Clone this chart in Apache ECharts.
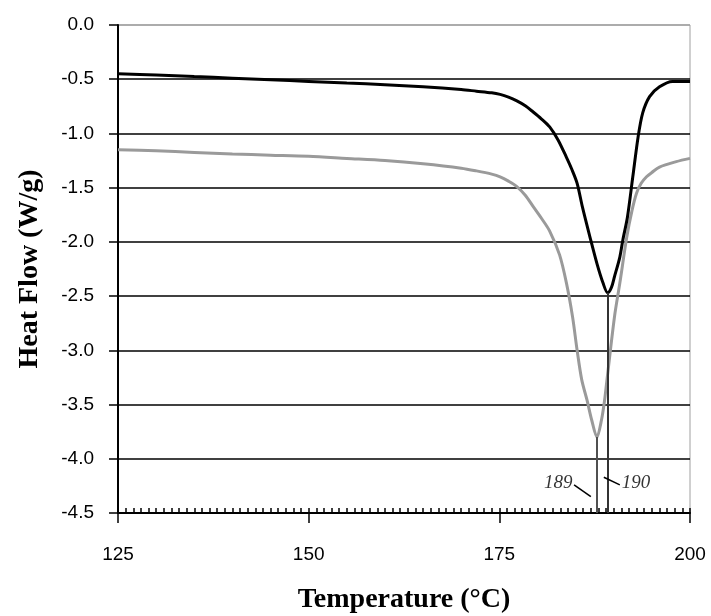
<!DOCTYPE html>
<html>
<head>
<meta charset="utf-8">
<script src="https://cdn.jsdelivr.net/npm/echarts@6/dist/echarts.min.js"></script>
<style>html,body{margin:0;padding:0;background:#fff;}#c{width:711px;height:616px;}</style>
</head>
<body>
<div id="c"></div>
<script>
// Black curve (°C, W/g)
var blackTemp = [125,130,135,140,145,150,155,160,165,170,172,174,175.1,176.2,177.3,178.4,179.4,180.5,181.6,182.7,183.8,184.5,185.2,185.9,186.9,187.8,188.6,189.2,189.7,190.1,190.8,191.2,191.8,192.5,193.2,193.8,194.7,196.0,197.7,200];
var blackFlow = [-0.45,-0.46,-0.475,-0.49,-0.505,-0.52,-0.535,-0.55,-0.57,-0.595,-0.61,-0.625,-0.64,-0.665,-0.70,-0.745,-0.80,-0.865,-0.94,-1.06,-1.22,-1.33,-1.46,-1.68,-1.96,-2.20,-2.38,-2.47,-2.42,-2.32,-2.14,-1.98,-1.77,-1.40,-1.03,-0.81,-0.66,-0.57,-0.52,-0.52];
// Grey curve
var greyTemp = [125,130,135,140,145,150,155,160,165,170,172,174,175.1,176.2,177.3,178.4,179.4,180.5,181.6,182.9,183.8,184.6,185.2,185.8,186.5,187.1,187.8,188.4,188.8,189.1,190.1,190.8,191.7,192.4,193.0,193.6,194.3,195.0,196.0,198.2,200];
var greyFlow = [-1.15,-1.16,-1.175,-1.19,-1.20,-1.21,-1.23,-1.25,-1.28,-1.32,-1.345,-1.375,-1.40,-1.44,-1.49,-1.57,-1.67,-1.78,-1.90,-2.12,-2.38,-2.69,-3.00,-3.27,-3.46,-3.64,-3.80,-3.64,-3.46,-3.28,-2.69,-2.38,-1.96,-1.71,-1.55,-1.46,-1.40,-1.36,-1.31,-1.26,-1.23];
// Axis ticks
var yTicks = [0.0,-0.5,-1.0,-1.5,-2.0,-2.5,-3.0,-3.5,-4.0,-4.5];
var xTicks = [125,150,175,200];
// Peak annotations: label text, label anchor [x,y], leader line [[x1,y1],[x2,y2]]
var peakLabels = ['189','190'];
var labelPos = [[184.6,-4.22],[191.05,-4.22]];
var leaderLines = [[[184.8,-4.24],[187.0,-4.35]],[[188.7,-4.17],[190.8,-4.24]]];

function pairs(xs, ys){ return xs.map(function(x,i){return [x, ys[i]];}); }
function minPoint(xs, ys){ var k=0; for(var i=1;i<ys.length;i++){ if(ys[i]<ys[k]) k=i; } return [xs[k], ys[k]]; }

var yMin = yTicks[yTicks.length-1], yMax = yTicks[0];
var xMin = xTicks[0], xMax = xTicks[xTicks.length-1];
var bMin = minPoint(blackTemp, blackFlow);
var gMin = minPoint(greyTemp, greyFlow);

var chart = echarts.init(document.getElementById('c'));
var axisFont = 'Liberation Sans, Arial, sans-serif';
var serif = 'Liberation Serif, Times New Roman, serif';

var splitColors = yTicks.slice().reverse().map(function(v){ return v===yMax ? '#a0a0a0' : '#000'; });
var gridBox = {left:118, right:21, top:25, bottom:103, containLabel:false, outerBoundsMode:'none'};

var series = [
  {type:'line', xAxisIndex:0, yAxisIndex:0, data: pairs(greyTemp, greyFlow), showSymbol:false, symbol:'none', smooth:0.3,
   lineStyle:{color:'#9a9a9a', width:3}, z:3,
   markLine:{symbol:'none', silent:true, label:{show:false},
     lineStyle:{color:'#505050', width:2, type:'solid'},
     data:[[{coord:[gMin[0], gMin[1]]},{coord:[gMin[0], yMin]}]]}},
  {type:'line', xAxisIndex:0, yAxisIndex:0, data: pairs(blackTemp, blackFlow), showSymbol:false, symbol:'none', smooth:0.3,
   lineStyle:{color:'#000', width:3}, z:4,
   markLine:{symbol:'none', silent:true, label:{show:false},
     lineStyle:{color:'#333', width:2, type:'solid'},
     data:[[{coord:[bMin[0], bMin[1]]},{coord:[bMin[0], yMin]}]]}}
];
leaderLines.forEach(function(l){
  series.push({type:'line', xAxisIndex:0, yAxisIndex:0, data:l, showSymbol:false, symbol:'none', lineStyle:{color:'#000', width:1.5}, z:5, silent:true});
});
series.push({type:'scatter', xAxisIndex:0, yAxisIndex:0, symbolSize:0, silent:true, z:6,
  data: labelPos.map(function(p,i){ return {value:p, label:{show:true, formatter:peakLabels[i], position: i===0?'left':'right', distance:0,
    fontFamily:serif, fontStyle:'italic', fontSize:19, color:'#000'}}; })
});

chart.setOption({
  animation:false,
  backgroundColor:'#fff',
  grid:[
    Object.assign({show:true, borderColor:'#a0a0a0', borderWidth:1, backgroundColor:'transparent'}, gridBox),
    Object.assign({show:false}, gridBox)
  ],
  xAxis:[{
    gridIndex:0, type:'value', min:xMin, max:xMax, interval:25,
    name:'Temperature (°C)', nameLocation:'middle', nameGap:73,
    nameTextStyle:{fontFamily:serif, fontWeight:'bold', fontSize:28, color:'#000'},
    axisLine:{show:true, onZero:false, lineStyle:{color:'#000', width:2}},
    axisTick:{show:true, inside:false, length:10, lineStyle:{color:'#000', width:1.5}},
    axisLabel:{margin:32, fontFamily:axisFont, fontSize:19, color:'#000'},
    splitLine:{show:false}
  },{
    gridIndex:1, type:'value', min:xMin, max:xMax, interval:1, position:'bottom',
    axisLine:{show:false, onZero:false}, axisLabel:{show:false}, splitLine:{show:false},
    axisTick:{show:true, inside:true, length:5, lineStyle:{color:'#000', width:1.5}}
  }],
  yAxis:[{
    gridIndex:0, type:'value', min:yMin, max:yMax, interval:0.5,
    name:'Heat Flow (W/g)', nameLocation:'middle', nameGap:74,
    nameTextStyle:{fontFamily:serif, fontWeight:'bold', fontSize:28, color:'#000'},
    axisLine:{show:true, onZero:false, lineStyle:{color:'#000', width:2}},
    axisTick:{show:true, inside:false, length:9, lineStyle:{color:'#000', width:1.5}},
    axisLabel:{margin:24, fontFamily:axisFont, fontSize:19, color:'#000', formatter:function(v){ return v.toFixed(1); }},
    splitLine:{show:true, lineStyle:{color:splitColors, width:1.5}}
  },{
    gridIndex:1, type:'value', min:yMin, max:yMax, show:false
  }],
  series: series
});
</script>
</body>
</html>
